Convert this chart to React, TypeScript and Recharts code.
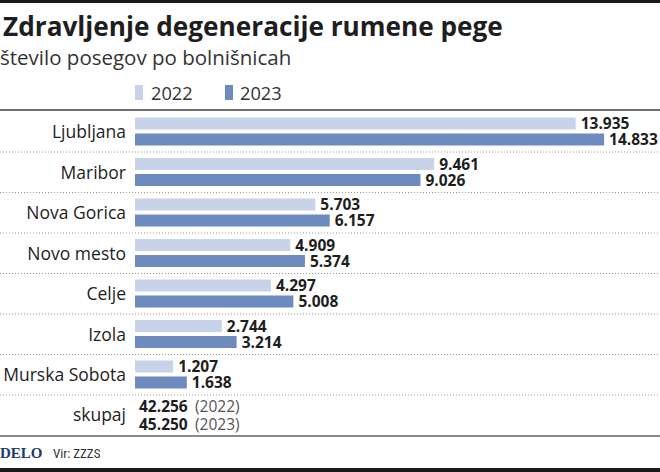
import React from 'react';
import { BarChart, Bar, XAxis, YAxis, LabelList } from 'recharts';

const categories = ['Ljubljana', 'Maribor', 'Nova Gorica', 'Novo mesto', 'Celje', 'Izola', 'Murska Sobota'];
const values2022 = [13935, 9461, 5703, 4909, 4297, 2744, 1207];
const values2023 = [14833, 9026, 6157, 5374, 5008, 3214, 1638];
const seriesNames = ['2022', '2023'];
const totals = [42256, 45250];
const totalLabel = 'skupaj';

const data = categories.map((name, i) => ({ name, y2022: values2022[i], y2023: values2023[i] }));

const FONT = "'Open Sans', 'Noto Sans', sans-serif";
const LIGHT = '#c8d2e8';
const DARK = '#6d8bbe';
const TEXT = '#1e1e1e';

const fmt = (v: number) => String(Math.round(v)).replace(/\B(?=(\d{3})+(?!\d))/g, '.');

const CategoryTick = (props: any) => {
  const { x, y, payload } = props;
  return (
    <g>
      <text x={x - 1} y={y} dy={6.3} textAnchor="end" fontSize={17.5} fill={TEXT} fontFamily={FONT}>
        {payload.value}
      </text>
      <line x1={0} x2={660} y1={y + 20.25} y2={y + 20.25} stroke="#9a9a9a" strokeDasharray="1 2" strokeWidth={1} />
    </g>
  );
};

const ValueLabel = (props: any) => {
  const { x, y, width, height, value } = props;
  return (
    <text x={x + width + 5} y={y + height / 2} dy={5.6} fontSize={15.5} fontWeight={700} fill={TEXT} fontFamily={FONT}>
      {fmt(value)}
    </text>
  );
};

export default function App() {
  return (
    <div style={{ position: 'absolute', left: 0, top: 0, width: 660, height: 472, background: '#fff', overflow: 'hidden' }}>
      <svg width={660} height={472} style={{ position: 'absolute', left: 0, top: 0 }}>
        <rect x={0} y={0} width={660} height={3} fill="#1a1a1a" />
        <text x={3} y={35.5} fontSize={26.2} fontWeight={700} fill={TEXT} fontFamily={FONT}>
          Zdravljenje degeneracije rumene pege
        </text>
        <text x={0} y={65} fontSize={20.5} fill="#333" fontFamily={FONT}>
          število posegov po bolnišnicah
        </text>
        <rect x={135} y={85} width={8} height={15} fill={LIGHT} />
        <text x={151} y={100} fontSize={18.2} fill="#333" fontFamily={FONT}>{seriesNames[0]}</text>
        <rect x={225} y={85} width={8} height={15} fill={DARK} />
        <text x={240} y={100} fontSize={18.2} fill="#333" fontFamily={FONT}>{seriesNames[1]}</text>
        <rect x={0} y={109} width={660} height={2} fill="#707070" />
        <text x={126} y={421} textAnchor="end" fontSize={17.5} fill={TEXT} fontFamily={FONT}>{totalLabel}</text>
        <text x={139} y={412} fontSize={15.5} fontWeight={700} fill={TEXT} fontFamily={FONT}>{fmt(totals[0])}</text>
        <text x={195} y={412} fontSize={15.5} fill="#555" fontFamily={FONT}>({seriesNames[0]})</text>
        <text x={139} y={430} fontSize={15.5} fontWeight={700} fill={TEXT} fontFamily={FONT}>{fmt(totals[1])}</text>
        <text x={195} y={430} fontSize={15.5} fill="#555" fontFamily={FONT}>({seriesNames[1]})</text>
        <rect x={0} y={435} width={660} height={2} fill="#8a8a8a" />
        <text x={0} y={458} fontSize={15} fontWeight={700} fill="#1d3a6b" fontFamily="'Liberation Serif', 'DejaVu Serif', serif">DELO</text>
        <text x={53} y={458} fontSize={13} fill="#333" fontFamily="'Liberation Sans Narrow', 'Roboto Condensed', 'DejaVu Sans Condensed', sans-serif" style={{ fontStretch: 'condensed' }}>Vir: ZZZS</text>
        <rect x={0} y={468} width={660} height={4} fill="#1a1a1a" />
      </svg>
      <div style={{ position: 'absolute', left: 0, top: 0 }}>
        <BarChart
          width={660}
          height={472}
          data={data}
          layout="vertical"
          margin={{ top: 111.5, bottom: 77, left: 0, right: 19 }}
          barSize={12}
          barGap={4}
        >
          <XAxis type="number" domain={[0, 16000]} hide />
          <YAxis type="category" dataKey="name" width={135} axisLine={false} tickLine={false} tick={<CategoryTick />} interval={0} />
          <Bar dataKey="y2022" name={seriesNames[0]} fill={LIGHT} isAnimationActive={false}>
            <LabelList dataKey="y2022" content={<ValueLabel />} />
          </Bar>
          <Bar dataKey="y2023" name={seriesNames[1]} fill={DARK} isAnimationActive={false}>
            <LabelList dataKey="y2023" content={<ValueLabel />} />
          </Bar>
        </BarChart>
      </div>
    </div>
  );
}
